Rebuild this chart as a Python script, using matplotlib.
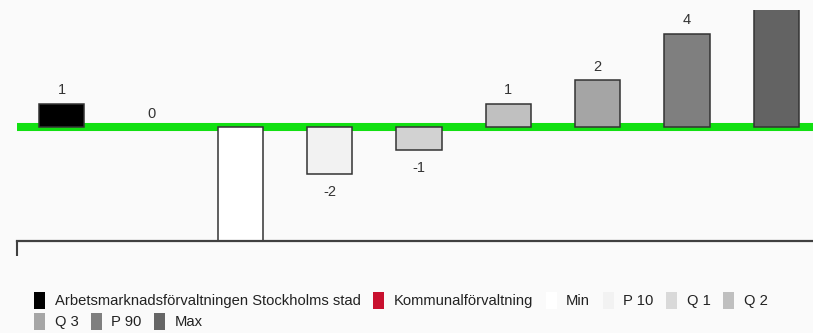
import numpy as np
import matplotlib.pyplot as plt
from matplotlib.patches import Patch

plt.rcParams['font.family'] = ['Liberation Sans', 'DejaVu Sans']

# data
names = ['Arbetsmarknadsförvaltningen Stockholms stad', 'Kommunalförvaltning',
         'Min', 'P 10', 'Q 1', 'Q 2', 'Q 3', 'P 90', 'Max']
values = [1, 0, -6, -2, -1, 1, 2, 4, 6]
bar_colors = ['#000000', '#c8102e', '#ffffff', '#f2f2f2', '#d2d2d2',
              '#c0c0c0', '#a5a5a5', '#7f7f7f', '#636363']
legend_colors = ['#000000', '#c8102e', '#ffffff', '#f2f2f2', '#d9d9d9',
                 '#bfbfbf', '#a6a6a6', '#7f7f7f', '#666666']

bg = '#fafafa'
W, H = 813, 333
ylo, yhi = -4.89, 5.01
fig = plt.figure(figsize=(W / 100, H / 100), dpi=100, facecolor=bg)
ax = fig.add_axes([17 / W, 1 - 241 / H, 804 / W, 231 / H], facecolor=bg)

x = np.arange(len(values))
ax.axhline(0, color='#12e012', lw=5.8, zorder=1)
edge_w = [1.1 if v != 0 else 0 for v in values]
ax.bar(x, values, width=0.51, color=bar_colors, edgecolor='#333333',
       linewidth=edge_w, zorder=2)

for xi, v in zip(x, values):
    ty = v + 0.57 if v >= 0 else v - 0.78
    if ylo < ty < yhi:
        ax.text(xi, ty, str(v), ha='center', va='center', fontsize=10.5,
                color='#333333')

ax.set_xlim(-0.5, 8.5)
ax.set_ylim(ylo, yhi)
ax.set_yticks([])
ax.set_xticks([-0.5])
ax.set_xticklabels([''])
ax.tick_params(axis='x', length=11, width=1.5, color='#404040', direction='out')
for s in ['top', 'right', 'left']:
    ax.spines[s].set_visible(False)
ax.spines['bottom'].set_color('#404040')
ax.spines['bottom'].set_linewidth(1.6)

handles = [Patch(facecolor=c, edgecolor='none', label=n)
           for c, n in zip(legend_colors, names)]
common = dict(loc='upper left', frameon=False, fontsize=10.6, borderpad=0,
              borderaxespad=0, handlelength=0.75, handleheight=1.35,
              handletextpad=0.65, columnspacing=0.85, labelcolor='#222222')
leg1 = fig.legend(handles=handles[:6], ncol=6,
                  bbox_to_anchor=(34 / W, 1 - 292 / H), **common)
leg2 = fig.legend(handles=handles[6:], ncol=3,
                  bbox_to_anchor=(34 / W, 1 - 313 / H), **common)

fig.savefig('out.png', dpi=100, facecolor=bg)
